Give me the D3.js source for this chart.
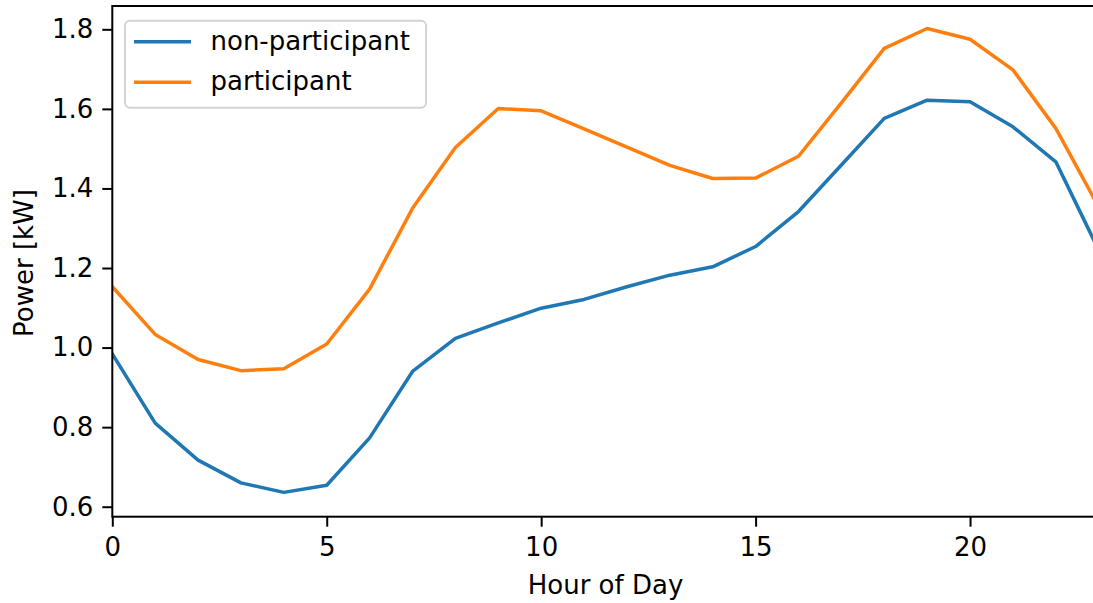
<!DOCTYPE html>
<html>
<head>
<meta charset="utf-8">
<script src="https://cdn.jsdelivr.net/npm/d3@7"></script>
<style>
  html, body { margin: 0; padding: 0; background: #fff; }
  svg { display: block; font-family: "DejaVu Sans", sans-serif; }
</style>
</head>
<body>
<svg id="chart" width="1093" height="603"></svg>
<script>
// Average household load profile by hour
const hours = d3.range(0, 24);
const nonParticipant = [0.984, 0.810, 0.717, 0.660, 0.636, 0.654, 0.773, 0.940, 1.023, 1.062, 1.099, 1.121,
                        1.153, 1.182, 1.203, 1.254, 1.342, 1.459, 1.576, 1.622, 1.618, 1.555, 1.467, 1.245];
const participant = [1.153, 1.033, 0.970, 0.942, 0.947, 1.009, 1.147, 1.350, 1.503, 1.601, 1.595, 1.550,
                     1.504, 1.458, 1.425, 1.426, 1.481, 1.615, 1.752, 1.802, 1.775, 1.698, 1.551, 1.353];
const seriesNames = ["non-participant", "participant"];
const seriesColors = ["#1f77b4", "#ff7f0e"];
const xTicks = [0, 5, 10, 15, 20];
const yTicks = [0.6, 0.8, 1.0, 1.2, 1.4, 1.6, 1.8];

const svg = d3.select("#chart");
const fontSize = 26;
const plotLeft = 112.3, plotRight = 1098.7, plotTop = 6, plotBottom = 516.7;

const x = d3.scaleLinear().domain([0, 23]).range([plotLeft, plotRight]);
const y = d3.scaleLinear().domain([0.5749, 1.8586]).range([plotBottom, plotTop]);

svg.append("defs").append("clipPath").attr("id", "plotclip")
  .append("rect").attr("x", plotLeft).attr("y", plotTop)
  .attr("width", plotRight - plotLeft).attr("height", plotBottom - plotTop);

// lines
const line = d3.line().x((d, i) => x(hours[i])).y(d => y(d));
[nonParticipant, participant].forEach((vals, k) => {
  svg.append("path")
    .datum(vals)
    .attr("clip-path", "url(#plotclip)")
    .attr("fill", "none")
    .attr("stroke", seriesColors[k])
    .attr("stroke-width", 3.5)
    .attr("stroke-linejoin", "round")
    .attr("stroke-linecap", "square")
    .attr("d", line);
});

// axes
const xAxis = d3.axisBottom(x).tickValues(xTicks).tickFormat(d3.format("d"))
  .tickSizeInner(10).tickSizeOuter(0).tickPadding(11);
const yAxis = d3.axisLeft(y).tickValues(yTicks).tickFormat(d3.format(".1f"))
  .tickSizeInner(10).tickSizeOuter(0).tickPadding(9);

const gx = svg.append("g").attr("transform", `translate(0,${plotBottom})`).call(xAxis);
const gy = svg.append("g").attr("transform", `translate(${plotLeft},0)`).call(yAxis);
[gx, gy].forEach(g => {
  g.select(".domain").remove();
  g.selectAll(".tick line").attr("stroke", "#000").attr("stroke-width", 2);
  g.selectAll(".tick text").attr("fill", "#000")
    .style("font-size", fontSize + "px").style("font-family", "DejaVu Sans");
});

// spines
svg.append("rect")
  .attr("x", plotLeft).attr("y", plotTop)
  .attr("width", plotRight - plotLeft).attr("height", plotBottom - plotTop)
  .attr("fill", "none").attr("stroke", "#000").attr("stroke-width", 2);

// axis labels
svg.append("text")
  .attr("x", 605.5)
  .attr("y", 594)
  .attr("text-anchor", "middle")
  .style("font-size", fontSize + "px")
  .text("Hour of Day");

svg.append("text")
  .attr("transform", `translate(33,263) rotate(-90)`)
  .attr("text-anchor", "middle")
  .style("font-size", fontSize + "px")
  .text("Power [kW]");

// legend
const lg = svg.append("g");
lg.append("rect")
  .attr("x", 125).attr("y", 20.7)
  .attr("width", 301).attr("height", 87)
  .attr("rx", 5).attr("ry", 5)
  .attr("fill", "#fff").attr("fill-opacity", 0.8)
  .attr("stroke", "#d4d4d4").attr("stroke-width", 2);

seriesNames.forEach((name, i) => {
  const ly = 41.7 + i * 40.6;
  lg.append("line")
    .attr("x1", 134).attr("x2", 191)
    .attr("y1", ly).attr("y2", ly)
    .attr("stroke", seriesColors[i]).attr("stroke-width", 3.5);
  lg.append("text")
    .attr("x", 210.5)
    .attr("y", ly + 8)
    .style("font-size", fontSize + "px")
    .text(name);
});
</script>
</body>
</html>
